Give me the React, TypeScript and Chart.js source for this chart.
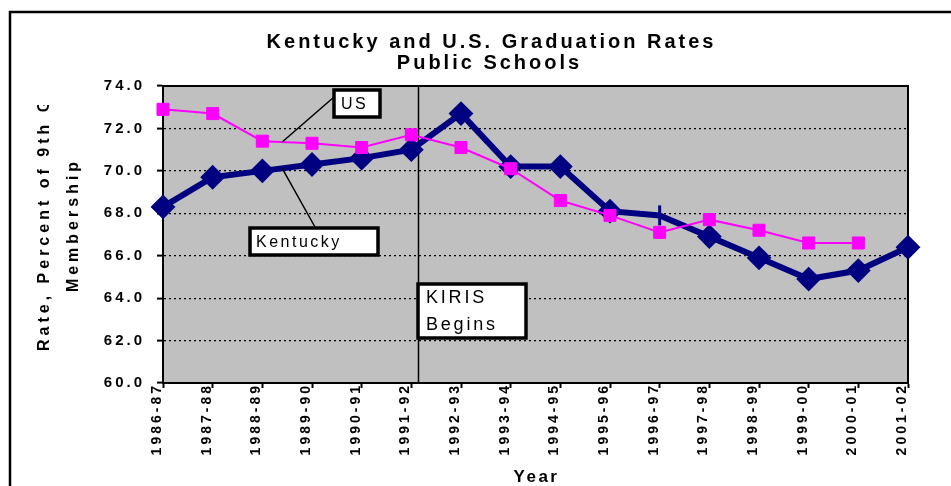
import { useEffect, useRef } from 'react';
import { Chart, registerables } from 'chart.js';

Chart.register(...registerables);

const categories = [
  '1986-87', '1987-88', '1988-89', '1989-90', '1990-91', '1991-92', '1992-93', '1993-94',
  '1994-95', '1995-96', '1996-97', '1997-98', '1998-99', '1999-00', '2000-01', '2001-02',
];
const kentucky = [68.3, 69.7, 70.0, 70.3, 70.6, 71.0, 72.7, 70.2, 70.2, 68.1, 67.9, 66.9, 65.9, 64.9, 65.3, 66.4];
const us = [72.9, 72.7, 71.4, 71.3, 71.1, 71.7, 71.1, 70.1, 68.6, 67.9, 67.1, 67.7, 67.2, 66.6, 66.6, null];
const yTicks = [60, 62, 64, 66, 68, 70, 72, 74];

const titleLines = ['Kentucky and U.S. Graduation Rates', 'Public Schools'];
const yTitleLines = ['Rate, Percent of 9th Grade', 'Membership'];
const xTitle = 'Year';
const kirisText = ['KIRIS', 'Begins'];
const kirisAt = 5.14; // category index position of KIRIS line
const leaderAt = 2.4; // category index where callout leader lines attach

const FONT = '"Liberation Sans", Arial, sans-serif';

function interp(arr: (number | null)[], pos: number) {
  const i = Math.floor(pos);
  const f = pos - i;
  const a = arr[i] as number;
  const b = arr[i + 1] as number;
  return a + (b - a) * f;
}

const decor = {
  id: 'decor',
  beforeDraw(chart: any) {
    const { ctx, chartArea: a } = chart;
    ctx.save();
    ctx.fillStyle = '#ffffff';
    ctx.fillRect(0, 0, chart.width, chart.height);
    ctx.fillStyle = '#C0C0C0';
    ctx.fillRect(a.left, a.top, a.right - a.left, a.bottom - a.top);
    // outer frame
    ctx.strokeStyle = '#000';
    ctx.lineWidth = 2.5;
    ctx.strokeRect(10, 12, 1400, 1400);

    // main title
    ctx.fillStyle = '#000';
    ctx.font = `bold 20px ${FONT}`;
    ctx.letterSpacing = '3px';
    ctx.textAlign = 'center';
    ctx.textBaseline = 'alphabetic';
    ctx.fillText(titleLines[0], 491.5, 48);
    ctx.fillText(titleLines[1], 489.5, 69);

    // x title
    ctx.font = `bold 17px ${FONT}`;
    ctx.letterSpacing = '2.5px';
    ctx.fillText(xTitle, (a.left + a.right) / 2 + 1, 482);

    // y title
    ctx.font = `bold 16px ${FONT}`;
    ctx.letterSpacing = '4px';
    ctx.textBaseline = 'middle';
    ctx.save();
    ctx.beginPath();
    ctx.rect(0, 105, 160, 400);
    ctx.clip();
    ctx.translate(45, 351);
    ctx.rotate(-Math.PI / 2);
    ctx.textAlign = 'left';
    ctx.fillText(yTitleLines[0], 0, 0);
    ctx.restore();
    ctx.save();
    ctx.translate(73.5, 225);
    ctx.rotate(-Math.PI / 2);
    ctx.textAlign = 'center';
    ctx.fillText(yTitleLines[1], 0, 0);
    ctx.restore();
    ctx.restore();
    ctx.letterSpacing = '3px';
  },
  beforeDatasetsDraw(chart: any) {
    const { ctx, chartArea: a, scales } = chart;
    ctx.save();
    ctx.strokeStyle = '#000';
    ctx.lineWidth = 2;
    ctx.strokeRect(a.left, a.top, a.right - a.left, a.bottom - a.top);
    const kx = Math.round(scales.x.getPixelForValue(kirisAt)) + 0.5;
    ctx.lineWidth = 1.5;
    ctx.beginPath();
    ctx.moveTo(kx, a.top);
    ctx.lineTo(kx, a.bottom);
    ctx.stroke();
    ctx.restore();
  },
  afterDatasetsDraw(chart: any) {
    const { ctx, scales } = chart;
    const xs = scales.x;
    const ys = scales.y;
    ctx.save();
    ctx.letterSpacing = '0px';
    // leader lines
    const lx = xs.getPixelForValue(leaderAt);
    const usY = ys.getPixelForValue(interp(us, leaderAt));
    const kyY = ys.getPixelForValue(interp(kentucky, leaderAt));
    ctx.strokeStyle = '#000';
    ctx.lineWidth = 1.5;
    ctx.beginPath();
    ctx.moveTo(lx, usY);
    ctx.lineTo(334, 97);
    ctx.moveTo(lx, kyY);
    ctx.lineTo(315, 227);
    ctx.stroke();

    const box = (x: number, y: number, w: number, h: number) => {
      ctx.fillStyle = '#fff';
      ctx.fillRect(x, y, w, h);
      ctx.strokeStyle = '#000';
      ctx.lineWidth = 3.5;
      ctx.strokeRect(x, y, w, h);
    };
    // US callout
    box(334, 90, 46, 27);
    // Kentucky callout
    box(250, 228, 128, 27);
    // KIRIS box
    const kx = Math.round(xs.getPixelForValue(kirisAt));
    box(kx, 284, 108, 54);

    ctx.fillStyle = '#000';
    ctx.textAlign = 'left';
    ctx.textBaseline = 'alphabetic';
    ctx.font = `16px ${FONT}`;
    ctx.letterSpacing = '2.5px';
    ctx.fillText('US', 341, 109);
    ctx.fillText('Kentucky', 256, 247);
    ctx.font = `18px ${FONT}`;
    ctx.letterSpacing = '2.8px';
    ctx.fillText(kirisText[0], kx + 8, 303);
    ctx.fillText(kirisText[1], kx + 8, 330);
    ctx.restore();
  },
};

export default function App() {
  const ref = useRef<HTMLCanvasElement>(null);
  useEffect(() => {
    const kyStyles = kentucky.map((_, i) => (i === 10 ? 'line' : 'rectRot'));
    const kyRot = kentucky.map((_, i) => (i === 10 ? 90 : 0));
    const kyRad = kentucky.map((_, i) => (i === 10 ? 10 : 11));
    const kyBW = kentucky.map((_, i) => (i === 10 ? 3 : 2));
    const chart = new Chart(ref.current as HTMLCanvasElement, {
      type: 'line',
      data: {
        labels: categories,
        datasets: [
          {
            label: 'US',
            data: us,
            borderColor: '#FF00FF',
            backgroundColor: '#FF00FF',
            borderWidth: 2,
            pointStyle: 'rect',
            pointRadius: 8.5,
            pointBorderWidth: 1,
            pointBackgroundColor: '#FF00FF',
            pointBorderColor: '#FF00FF',
            tension: 0,
            clip: false,
          },
          {
            label: 'Kentucky',
            data: kentucky,
            borderColor: '#000080',
            backgroundColor: '#000080',
            borderWidth: 6,
            pointStyle: kyStyles as any,
            pointRotation: kyRot,
            pointRadius: kyRad,
            pointBorderWidth: kyBW,
            pointBackgroundColor: '#000080',
            pointBorderColor: '#000080',
            tension: 0,
            clip: false,
          },
        ],
      },
      options: {
        responsive: false,
        animation: false,
        devicePixelRatio: 1,
        layout: { padding: { top: 86, right: 43, left: 0, bottom: 0 } },
        plugins: {
          legend: { display: false },
          title: { display: false },
          tooltip: { enabled: false },
        },
        events: [],
        scales: {
          x: {
            type: 'category',
            offset: false,
            afterFit: (s: any) => {
              s.height = 103;
            },
            grid: {
              display: true,
              drawOnChartArea: false,
              drawTicks: true,
              tickLength: 5,
              tickWidth: 2,
              tickColor: '#000',
              color: '#000',
              tickBorderDash: [],
            },
            border: { display: true, color: '#000', width: 2 },
            ticks: {
              autoSkip: false,
              minRotation: 90,
              maxRotation: 90,
              padding: -5,
              labelOffset: -6,
              color: '#000',
              font: { family: FONT, weight: 'bold', size: 14 },
            },
          },
          y: {
            min: 60,
            max: 74,
            afterFit: (s: any) => {
              s.width = 163;
            },
            afterBuildTicks: (s: any) => {
              s.ticks = yTicks.map((v) => ({ value: v }));
            },
            grid: {
              color: (c: any) =>
                c.tick && (c.tick.value === yTicks[0] || c.tick.value === yTicks[yTicks.length - 1])
                  ? 'rgba(0,0,0,0)'
                  : '#000',
              lineWidth: 1.2,
              drawTicks: true,
              tickLength: 6,
              tickWidth: 2,
              tickColor: '#000',
              tickBorderDash: [],
            },
            border: { display: true, color: '#000', width: 2, dash: [2, 3] },
            ticks: {
              padding: 12,
              color: '#000',
              font: { family: FONT, weight: 'bold', size: 15 },
              callback: (v: any) => Number(v).toFixed(1),
            },
          },
        },
      },
      plugins: [decor],
    } as any);
    return () => chart.destroy();
  }, []);
  return (
    <div style={{ position: 'absolute', left: 0, top: 0, width: 951, height: 486, background: '#fff' }}>
      <canvas ref={ref} width={951} height={486} style={{ display: 'block' }} />
    </div>
  );
}
